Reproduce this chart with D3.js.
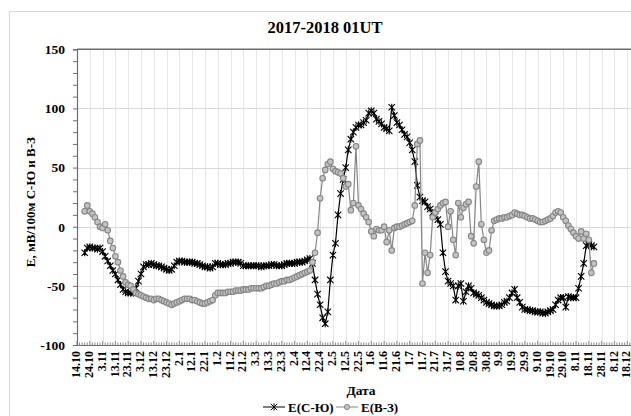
<!DOCTYPE html>
<html>
<head>
<meta charset="utf-8">
<script src="https://cdn.jsdelivr.net/npm/d3@7"></script>
<style>
  body { margin: 0; background: #fff; }
  svg text { font-family: "Liberation Serif", "Times New Roman", serif; font-weight: bold; fill: #000; }
</style>
</head>
<body>
<div id="chart"></div>
<script>
// values, one value every 2 days starting at firstDay
const firstDay = "2017-10-20";
const stepDays = 2;

const seriesNames = ["E(С-Ю)", "E(В-З)"];

const valuesSN = [
  -22, -18, -17, -18, -18, -19, -18, -21, -25, -29,
  -33, -37, -40, -45, -49, -53, -55, -56, -56, -56,
  -52, -46, -40, -34, -32, -32, -31, -32, -33, -33,
  -34, -35, -36, -37, -36, -33, -30, -29, -29, -30,
  -30, -30, -30, -31, -31, -32, -33, -34, -34, -35,
  -34, -31, -31, -32, -32, -32, -31, -31, -30, -30,
  -30, -31, -33, -33, -33, -33, -33, -33, -33, -34,
  -33, -33, -33, -32, -32, -33, -33, -33, -32, -31,
  -31, -31, -31, -30, -30, -30, -29, -28, -27, -31,
  -45, -57, -66, -77, -82, -72, -45, -24, -14, 10,
  28, 40, 50, 65, 74, 80, 84, 86, 86, 88,
  90, 96, 98, 96, 91, 89, 87, 84, 83, 81,
  101, 94, 88, 86, 82, 78, 76, 71, 65, 55,
  35, 25, 22, 21, 17, 15, 12, 9, 6, 2,
  -22, -38, -46, -48, -50, -62, -50, -48, -63, -55,
  -50, -52, -56, -57, -58, -60, -62, -64, -65, -66,
  -67, -67, -67, -66, -64, -63, -60, -56, -53, -60,
  -64, -68, -70, -70, -71, -71, -72, -72, -72, -73,
  -73, -72, -71, -70, -66, -62, -60, -60, -68, -59,
  -60, -60, -60, -52, -42, -31, -16, -15, -16, -17
];

const valuesEW = [
  13, 18, 13, 11, 8, 4, 0, -1, 2, -3,
  -12, -18, -25, -30, -37, -42, -47, -49, -50, -53,
  -56, -57, -58, -59, -60, -61, -61, -62, -61, -61,
  -62, -63, -64, -65, -66, -65, -64, -63, -62, -61,
  -61, -61, -62, -62, -63, -64, -65, -65, -64, -63,
  -62, -58, -56, -56, -56, -56, -55, -55, -55, -54,
  -54, -54, -53, -53, -53, -52, -52, -52, -52, -52,
  -51, -50, -50, -49, -48, -48, -47, -46, -46, -45,
  -45, -44, -43, -42, -41, -40, -39, -38, -37, -30,
  -22, -5, 24, 41, 48, 53, 55, 49, 47, 46,
  45, 41, 34, 36, 14, 20, 68, 18, 15, 11,
  8, 4, -4, -8, -2, -3, -3, 0, -13, -3,
  -20, -1, 0, 0, 1, 2, 3, 4, 5, 18,
  70, 73, -48, -22, -39, -24, 8, 12, 15, 18,
  20, 21, 0, 13, -11, -24, 20, 8, 16, 19,
  21, -8, -14, 34, 55, 2, -11, -22, -20, -3,
  5, 6, 7, 7, 8, 8, 9, 10, 12, 11,
  10, 10, 9, 8, 7, 7, 6, 5, 4, 4,
  5, 6, 7, 9, 12, 13, 12, 8, 5, 1,
  -2, -5, -8, -10, -4, -10, -6, -11, -39, -31
];

const axisStart = "2017-10-14";
const axisEnd = "2018-12-28";
const lastLabelDay = 430; // 18.12
const labelStepDays = 10;
const minorStepDays = 2;
const yDomain = [-100, 150];
const yLabelTicks = [-100, -50, 0, 50, 100, 150];
const yMinorStep = 10;

const title = "2017-2018 01UT";
const yTitle = "E, мВ/100м С-Ю и В-З";
const xTitle = "Дата";

const width = 631;
const height = 416;
const plot = { left: 77, right: 640, top: 49.3, bottom: 345 };
const dayMs = 864e5;

const parseDate = d3.utcParse("%Y-%m-%d");
const fmtDate = d3.utcFormat("%-d.%-m");
const t0 = parseDate(firstDay);
const axisT0 = parseDate(axisStart);

const toPoints = (vals) =>
  vals.map((v, i) => ({ date: new Date(+t0 + i * stepDays * dayMs), value: v }));

const dataSN = toPoints(valuesSN);
const dataEW = toPoints(valuesEW);

const svg = d3
  .select("#chart")
  .append("svg")
  .attr("width", width)
  .attr("height", height);

// chart border
svg
  .append("rect")
  .attr("x", 9.5)
  .attr("y", 11.5)
  .attr("width", 700)
  .attr("height", 500)
  .attr("fill", "#fff")
  .attr("stroke", "#d9d9d9");

const x = d3
  .scaleUtc()
  .domain([parseDate(axisStart), parseDate(axisEnd)])
  .range([plot.left, plot.right]);

const y = d3.scaleLinear().domain(yDomain).range([plot.bottom, plot.top]);

const labelDates = d3
  .range(0, lastLabelDay + 1, labelStepDays)
  .map((d) => new Date(+axisT0 + d * dayMs));
const minorDates = d3
  .range(0, 441, minorStepDays)
  .map((d) => new Date(+axisT0 + d * dayMs));

// vertical gridlines
svg
  .append("g")
  .selectAll("line")
  .data(labelDates.slice(1))
  .join("line")
  .attr("x1", (d) => Math.round(x(d)) + 0.5)
  .attr("x2", (d) => Math.round(x(d)) + 0.5)
  .attr("y1", plot.top)
  .attr("y2", plot.bottom)
  .attr("stroke", "#e6e6e6")
  .attr("stroke-width", 1);

// horizontal gridlines
svg
  .append("g")
  .selectAll("line")
  .data(yLabelTicks.filter((d) => d > yDomain[0] && d < yDomain[1]))
  .join("line")
  .attr("x1", plot.left)
  .attr("x2", plot.right)
  .attr("y1", (d) => Math.round(y(d)) + 0.5)
  .attr("y2", (d) => Math.round(y(d)) + 0.5)
  .attr("stroke", "#d9d9d9")
  .attr("stroke-width", 1.2);

// top border line of plot
svg
  .append("line")
  .attr("x1", plot.left)
  .attr("x2", plot.right)
  .attr("y1", y(150))
  .attr("y2", y(150))
  .attr("stroke", "#6e6e6e")
  .attr("stroke-width", 1.5);

// y axis
const yAxis = d3
  .axisLeft(y)
  .tickValues(d3.range(yDomain[0], yDomain[1] + 1, yMinorStep))
  .tickSize(4)
  .tickPadding(8)
  .tickFormat((d) => (yLabelTicks.includes(d) ? d : ""));

svg
  .append("g")
  .attr("transform", `translate(${plot.left},0)`)
  .call(yAxis)
  .call((g) => g.select(".domain").attr("stroke", "#6e6e6e").attr("stroke-width", 1.2))
  .call((g) => g.selectAll(".tick line").attr("stroke", "#6e6e6e"))
  .call((g) => g.selectAll("text").style("font-size", "13.5px"));

// x axis: minor ticks point up into the plot
svg
  .append("g")
  .selectAll("line")
  .data(minorDates)
  .join("line")
  .attr("x1", (d) => x(d))
  .attr("x2", (d) => x(d))
  .attr("y1", plot.bottom)
  .attr("y2", (d, i) => plot.bottom - (i % 5 === 0 ? 4 : 2.5))
  .attr("stroke", "#6e6e6e")
  .attr("stroke-width", 0.8);

const xAxis = d3.axisBottom(x).tickValues(labelDates).tickSize(0).tickFormat(fmtDate);

svg
  .append("g")
  .attr("transform", `translate(0,${plot.bottom})`)
  .call(xAxis)
  .call((g) => g.select(".domain").attr("stroke", "#6e6e6e").attr("stroke-width", 1.2))
  .call((g) =>
    g
      .selectAll("text")
      .style("font-size", "12px")
      .attr("text-anchor", "end")
      .attr("transform", "rotate(-90)")
      .attr("x", -6)
      .attr("y", 0)
      .attr("dy", "0.22em")
  );

// series
const line = d3
  .line()
  .x((d) => x(d.date))
  .y((d) => y(d.value));

const starPath = "M-3.2,-3.2L3.2,3.2M-3.2,3.2L3.2,-3.2M0,-3.6V3.6";

svg
  .append("path")
  .datum(dataSN)
  .attr("d", line)
  .attr("fill", "none")
  .attr("stroke", "#000")
  .attr("stroke-width", 1.2);

svg
  .append("g")
  .selectAll("path")
  .data(dataSN)
  .join("path")
  .attr("transform", (d) => `translate(${x(d.date)},${y(d.value)})`)
  .attr("d", starPath)
  .attr("stroke", "#000")
  .attr("stroke-width", 1.1)
  .attr("fill", "none");

svg
  .append("path")
  .datum(dataEW)
  .attr("d", line)
  .attr("fill", "none")
  .attr("stroke", "#858585")
  .attr("stroke-width", 1.2);

svg
  .append("g")
  .selectAll("circle")
  .data(dataEW)
  .join("circle")
  .attr("cx", (d) => x(d.date))
  .attr("cy", (d) => y(d.value))
  .attr("r", 2.8)
  .attr("fill", "#c4c4c4")
  .attr("stroke", "#858585")
  .attr("stroke-width", 1.1);

// titles
svg
  .append("text")
  .attr("x", 325)
  .attr("y", 33)
  .attr("text-anchor", "middle")
  .style("font-size", "16.5px")
  .text(title);

svg
  .append("text")
  .attr("transform", `translate(35,${(plot.top + plot.bottom) / 2 + 5}) rotate(-90)`)
  .attr("text-anchor", "middle")
  .style("font-size", "13px")
  .text(yTitle);

svg
  .append("text")
  .attr("x", 361)
  .attr("y", 395)
  .attr("text-anchor", "middle")
  .style("font-size", "13.5px")
  .text(xTitle);

// legend
const legend = svg.append("g").attr("transform", "translate(263,407)");

const legendItems = [
  { name: seriesNames[0], x: 0, color: "#000", marker: "star" },
  { name: seriesNames[1], x: 73, color: "#858585", marker: "circle" },
];

legendItems.forEach((item) => {
  const g = legend.append("g").attr("transform", `translate(${item.x},0)`);
  g.append("line")
    .attr("x1", 0)
    .attr("x2", 22)
    .attr("y1", 0)
    .attr("y2", 0)
    .attr("stroke", item.color);
  if (item.marker === "star") {
    g.append("path")
      .attr("transform", "translate(11,0)")
      .attr("d", starPath)
      .attr("stroke", "#000")
      .attr("fill", "none");
  } else {
    g.append("circle")
      .attr("cx", 11)
      .attr("cy", 0)
      .attr("r", 2.6)
      .attr("fill", "#c4c4c4")
      .attr("stroke", "#858585");
  }
  g.append("text")
    .attr("x", 25)
    .attr("y", 0)
    .attr("dy", "0.35em")
    .style("font-size", "13px")
    .text(item.name);
});
</script>
</body>
</html>
